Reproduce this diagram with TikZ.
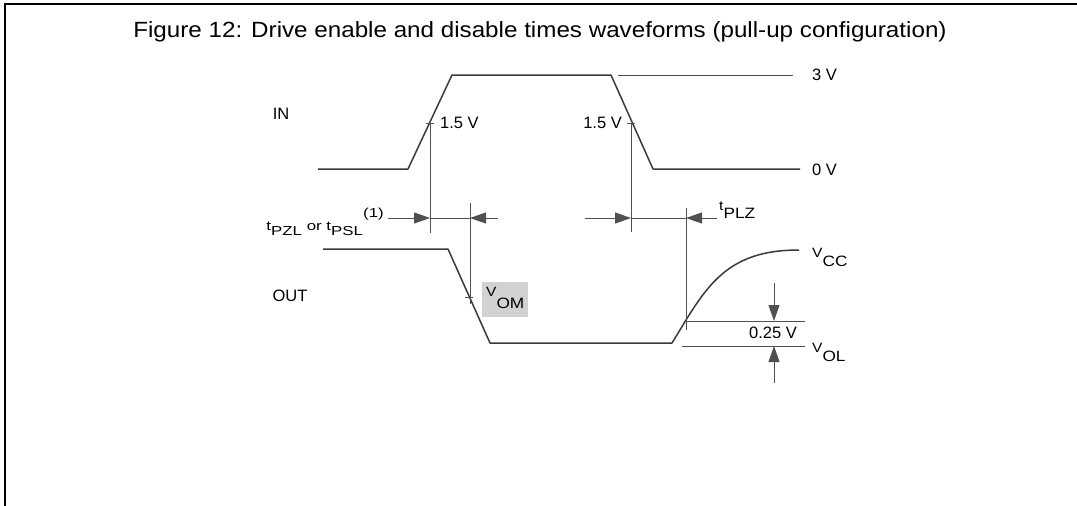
\documentclass[tikz,border=0pt]{standalone}
\usepackage{fontspec}
\usepackage{graphicx}
\setmainfont{Liberation Sans}
\usetikzlibrary{arrows.meta}

\definecolor{wavegray}{HTML}{3A3A3A}
\definecolor{guidegray}{HTML}{505050}
\definecolor{boxgray}{HTML}{D2D2D2}

% letter with a big, lowered index, as the datasheet prints it
\newcommand{\lowidx}[3][8pt]{\scalebox{1.15}[1]{\fontsize{13.5}{13.5}\selectfont #2\raisebox{-#1}{\fontsize{15}{15}\selectfont #3}}}
\newcommand{\smallidx}[2]{#1\raisebox{-5pt}{#2}}

\begin{document}
\begin{tikzpicture}[x=1pt,y=-1pt,
    wave/.style={line width=1.5pt,draw=wavegray,line join=round},
    guide/.style={line width=0.9pt,draw=guidegray},
    dimarrow/.style={guide,-{Triangle[length=16pt,width=11pt]}},
    lbl/.style={font=\fontsize{16.5}{16.5}\selectfont,inner sep=0pt,text=black},
    tick/.style={guide,line width=0.8pt}
  ]
\useasboundingbox (0,0) rectangle (1077,506);
\draw[line width=2.6pt] (5,506) -- (5,4) -- (1077,4);

\node[inner sep=0pt] (title) at (540,32)
  {\scalebox{1.1}[1]{\fontsize{22}{22}\selectfont Figure 12: Drive enable and disable times waveforms (pull-up configuration)}};

% input waveform
\coordinate (in0) at (318,169);
\coordinate (in1) at (408,169);
\coordinate (in2) at (452,75);
\coordinate (in3) at (611,75);
\coordinate (in4) at (653,169);
\coordinate (in5) at (800,169);
\coordinate (hi0) at (618,75);
\coordinate (hi1) at (793,75);
\draw[wave] (in0) -- (in1) -- (in2) -- (in3) -- (in4) -- (in5);
\draw[guide] (hi0) -- (hi1);

\node[lbl] (lin) at (281,114) {IN};
\node[lbl,anchor=west] (l3v) at (812,75) {3 V};
\node[lbl,anchor=west] (l0v) at (812,170) {0 V};

% 1.5 V crossings
\coordinate (rise) at (430,123);
\coordinate (fall) at (631,123);
\draw[tick] ([xshift=-4]rise) -- ([xshift=4]rise);
\draw[tick] ([xshift=-4]fall) -- ([xshift=4]fall);
\node[lbl,anchor=west] (lrise) at (440,123) {1.5 V};
\node[lbl,anchor=east] (lfall) at (622,123) {1.5 V};
\coordinate (riseb) at (430,233);
\coordinate (fallb) at (631,232);
\draw[guide] (rise) -- (riseb);
\draw[guide] (fall) -- (fallb);

% output waveform
\coordinate (out0) at (323,249);
\coordinate (out1) at (448,249);
\coordinate (out2) at (490,343);
\coordinate (out3) at (672,343);
\coordinate (out4) at (686,320);
\coordinate (out5) at (799,250);
\draw[wave] (out0) -- (out1) -- (out2) -- (out3) -- (out4)
  .. controls (712,278) and (735,250) .. (out5);
\node[lbl] (lout) at (290,296) {OUT};

% V_OM crossing
\coordinate (vom) at (469,297);
\coordinate (vomt) at (470,203);
\coordinate (vomb) at (470,304);
\draw[guide] (vomt) -- (vomb);
\draw[tick] ([xshift=-4]vom) -- ([xshift=4]vom);
\node[fill=boxgray,inner sep=0pt,minimum width=46pt,minimum height=35pt] (vombox) at (505,299.5) {};
\node[lbl,anchor=base west] (lvom) at (486,296) {\lowidx[12pt]{V}{OM}};

% enable time
\coordinate (en0) at (388,218);
\coordinate (en1) at (430,218);
\coordinate (en2) at (470,218);
\coordinate (en3) at (498,218);
\draw[dimarrow] (en0) -- (en1);
\draw[guide] (en1) -- (en2);
\draw[dimarrow] (en3) -- (en2);
\node[inner sep=0pt,anchor=base east] (lpzl) at (384,230)
  {\scalebox{1.3}[1]{\fontsize{13}{13}\selectfont\smallidx{t}{PZL} or \smallidx{t}{PSL}\raisebox{13pt}{(1)}}};

% disable time
\coordinate (dis0) at (585,218);
\coordinate (dis1) at (631,218);
\coordinate (dis2) at (686,218);
\coordinate (dis3) at (717,218);
\coordinate (plzt) at (686,208);
\coordinate (plzb) at (686,330);
\draw[guide] (plzt) -- (plzb);
\draw[dimarrow] (dis0) -- (dis1);
\draw[guide] (dis1) -- (dis2);
\draw[dimarrow] (dis3) -- (dis2);
\node[lbl,anchor=base west] (lplz) at (719,210) {\lowidx{t}{PLZ}};

% 0.25 V band
\coordinate (ol0) at (685,321);
\coordinate (ol1) at (805,321);
\coordinate (ol2) at (682,346);
\coordinate (ol3) at (805,346);
\draw[guide] (ol0) -- (ol1);
\draw[guide] (ol2) -- (ol3);
\coordinate (arr0) at (774,283);
\coordinate (arr1) at (774,321);
\coordinate (arr2) at (774,383);
\coordinate (arr3) at (774,346);
\draw[dimarrow] (arr0) -- (arr1);
\draw[dimarrow] (arr2) -- (arr3);
\node[lbl] (l025) at (773,333) {0.25 V};
\node[lbl,anchor=base west] (lvcc) at (812,257) {\lowidx[9pt]{V}{CC}};
\node[lbl,anchor=base west] (lvol) at (812,352) {\lowidx[9pt]{V}{OL}};
\end{tikzpicture}
\end{document}
